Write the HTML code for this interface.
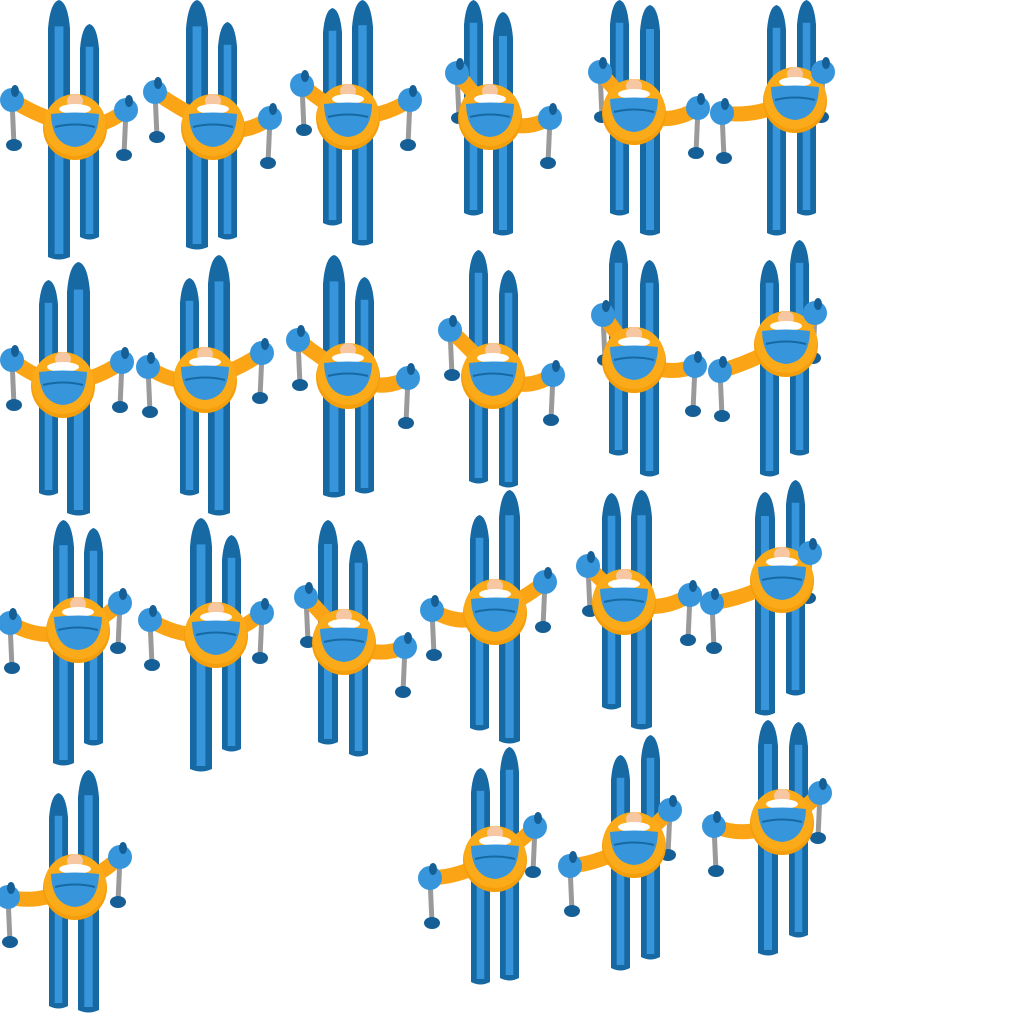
<!DOCTYPE html>
<html><head><meta charset="utf-8"><style>
html,body{margin:0;padding:0;background:#fff;width:1024px;height:1024px;overflow:hidden}
</style></head><body>
<svg id="sheet" width="1024" height="1024" viewBox="0 0 1024 1024" xmlns="http://www.w3.org/2000/svg"></svg>
<script>
const skiA=[[48,0,260,22],[186,0,250,22],[323,8,226,19],[464,0,216,19],[610,0,216,19],[767,5,236,19],
[39,280,496,19],[180,278,496,19],[323,255,498,22],[469,250,484,19],[609,240,456,19],[760,260,477,19],
[53,520,766,21],[190,518,772,22],[318,520,745,20],[470,515,731,19],[602,493,710,19],[755,492,716,20],
[49,793,1009,19],[471,768,985,19],[611,755,971,19],[758,720,956,20]];
const skiB=[[80,24,240,19],[218,22,240,19],[352,0,246,21],[493,12,236,20],[640,5,236,20],[797,0,216,19],
[67,262,516,23],[208,255,516,22],[355,277,494,19],[499,270,488,19],[640,260,477,19],[790,240,456,19],
[84,528,746,19],[222,535,752,19],[349,540,757,19],[499,490,744,21],[631,490,730,21],[786,480,696,19],
[78,770,1013,21],[500,747,981,19],[641,735,960,19],[789,722,938,19]];
const bodyC=[[75,125],[213,125],[348,115],[490,115],[634,110],[795,98],
[63,383],[205,378],[348,374],[493,374],[634,358],[786,342],
[78,628],[216,633],[344,640],[495,610],[624,600],[782,578],
[75,885],[495,857],[634,843],[782,820]];
const handL=[[12,100],[155,92],[302,85],[457,73],[600,72],[722,113],
[12,360],[148,367],[298,340],[450,330],[603,315],[720,371],
[10,623],[150,620],[306,597],[432,610],[588,566],[712,603],
[8,897],[430,878],[570,866],[714,826]];
const handR=[[126,110],[270,118],[410,100],[550,118],[698,108],[823,72],
[122,362],[262,353],[408,378],[553,375],[695,366],[815,313],
[120,603],[262,613],[405,647],[545,582],[690,595],[810,553],
[120,857],[535,827],[670,810],[820,793]];
const NS='http://www.w3.org/2000/svg';
const svg=document.getElementById('sheet');
function mk(t,a,p){const e=document.createElementNS(NS,t);for(const k in a)e.setAttribute(k,a[k]);(p||svg).appendChild(e);return e;}
function ski(s,g){
  const [x,t,b,w]=s;
  const e=mk('path',{d:`M${x},${b-3} L${x},${t+w*1.3} Q${x+w*0.1},${t+2} ${x+w/2},${t} Q${x+w*0.9},${t+2} ${x+w},${t+w*1.3} L${x+w},${b-3} Q${x+w/2},${b+2} ${x},${b-3}Z`,fill:'#1769a4'},g);
  
  
  mk('rect',{x:x+w*0.3,y:t+w*1.2,width:w*0.4,height:b-t-w*1.2-6,fill:'#3796db'},g);
}
for(let i=0;i<bodyC.length;i++){
  const g=mk('g',{});
  
  
  ski(skiA[i],g);ski(skiB[i],g);
  const [cx,cy]=bodyC[i];
  [handL[i],handR[i]].forEach(h=>{
    const dx=cx>h[0]?2:-2;
    const p=mk('line',{x1:h[0],y1:h[1],x2:h[0]+dx,y2:h[1]+45,stroke:'#9a9a9a','stroke-width':5},g);
    
    
    mk('ellipse',{cx:h[0]+dx,cy:h[1]+45,rx:8,ry:6,fill:'#155f96'},g);
  });
  [handL[i],handR[i]].forEach(h=>{
    const mx=(cx+h[0])/2,my=Math.min(cy,h[1])+5;
    mk('path',{d:`M${cx},${cy} Q${mx},${my+15} ${h[0]},${h[1]}`,stroke:'#fba516','stroke-width':15,fill:'none','stroke-linecap':'round'},g);
  });
  mk('circle',{cx:cx,cy:cy+3,r:32,fill:'#f59e0b'},g);
  mk('circle',{cx:cx,cy:cy,r:31,fill:'#fbab1a'},g);
  mk('ellipse',{cx:cx,cy:cy-24,rx:8,ry:7,fill:'#f6c7a0'},g);
  mk('ellipse',{cx:cx,cy:cy-16,rx:16,ry:5,fill:'#fff'},g);
  mk('path',{d:`M${cx-24},${cy-11} Q${cx},${cy-14} ${cx+24},${cy-11} Q${cx+23},${cy+20} ${cx},${cy+22} Q${cx-23},${cy+20} ${cx-24},${cy-11}Z`,fill:'#3796db'},g);
  mk('path',{d:`M${cx-20},${cy+2} Q${cx},${cy-3} ${cx+20},${cy+2}`,stroke:'#1769a4','stroke-width':2,fill:'none'},g);
  [handL[i],handR[i]].forEach(h=>{
    const c=mk('circle',{cx:h[0],cy:h[1],r:12,fill:'#3796db'},g);
    
    
    mk('ellipse',{cx:h[0]+3,cy:h[1]-9,rx:4,ry:6,fill:'#155f96'},g);
  });
}
</script>
</body></html>
